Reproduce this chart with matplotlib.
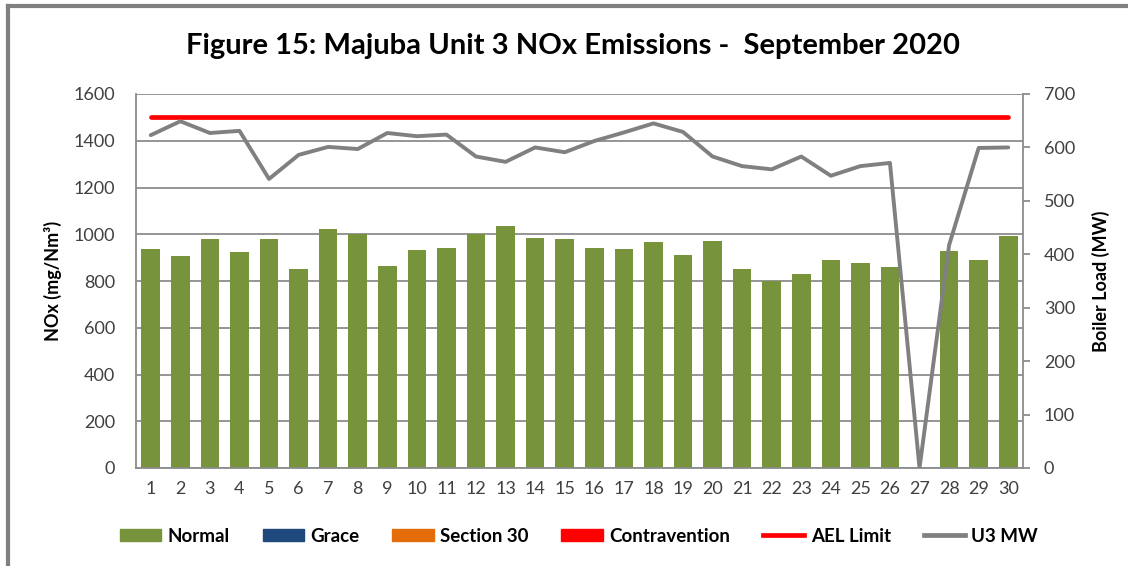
import matplotlib
matplotlib.use("Agg")
import matplotlib.pyplot as plt
import numpy as np
from matplotlib.patches import Patch
from matplotlib.lines import Line2D

plt.rcParams["font.family"] = ["Lato", "DejaVu Sans"]

days = list(range(1, 31))
normal = [936, 906, 978, 923, 978, 851, 1023, 1003, 865, 932,
          942, 999, 1036, 982, 978, 942, 936, 965, 911, 973,
          851, 800, 829, 888, 878, 859, 0, 928, 888, 992]
grace = [0] * 30
section30 = [0] * 30
contravention = [0] * 30
ael_limit = [1500] * 30
u3_mw = [623, 649, 627, 631, 541, 586, 601, 597, 627, 621,
         624, 583, 573, 600, 591, 612, 628, 645, 629, 583,
         565, 559, 583, 547, 565, 571, 0, 417, 599, 600]

GREEN = "#77933C"
BLUE = "#1F497D"
ORANGE = "#E46C0A"
RED = "#FF0000"
GREY = "#808080"
GRID = "#8C8C8C"
TICK = "#404040"

W, H = 1128, 566
fig = plt.figure(figsize=(W / 100, H / 100), dpi=100)
ax = fig.add_axes([136 / W, 1 - 468 / H, (1023 - 136) / W, (468 - 94) / H])

x = np.array(days)
w = 0.63
bottom = np.zeros(30)
for vals, col in [(normal, GREEN), (grace, BLUE), (section30, ORANGE), (contravention, RED)]:
    ax.bar(x, vals, w, bottom=bottom, color=col, linewidth=0, zorder=2)
    bottom += np.array(vals)
ax.plot(x, ael_limit, color=RED, lw=3.4, solid_capstyle="round", zorder=3)

ax.set_xlim(0.5, 30.5)
ax.set_ylim(0, 1600)
ax.set_yticks(range(0, 1601, 200))
ax.set_xticks(x)
ax.set_xticklabels([str(d) for d in days])
ax.yaxis.grid(True, color=GRID, lw=1.3, zorder=0)
ax.set_axisbelow(True)
ax.tick_params(axis="both", length=0, labelsize=13, labelcolor=TICK)
ax.tick_params(axis="x", pad=9)
ax.tick_params(axis="y", pad=15)
for s in ["top", "right"]:
    ax.spines[s].set_visible(False)
for s in ["left", "bottom"]:
    ax.spines[s].set_color(GRID)
    ax.spines[s].set_linewidth(1.3)

ax2 = ax.twinx()
ax2.plot(x, u3_mw, color=GREY, lw=2.8, solid_capstyle="round", zorder=4)
ax2.set_ylim(0, 700)
ax2.set_yticks(range(0, 701, 100))
ax2.tick_params(axis="y", length=5, width=1.3, color=GRID, labelsize=13, labelcolor=TICK, pad=10)
for s in ["top", "left", "bottom"]:
    ax2.spines[s].set_visible(False)
ax2.spines["right"].set_color(GRID)
ax2.spines["right"].set_linewidth(1.3)

fig.text(53 / W, 1 - 281 / H, "NOx (mg/Nm³)", rotation=90, ha="center", va="center",
         fontsize=13, fontweight="bold")
fig.text(1101 / W, 1 - 281 / H, "Boiler Load (MW)", rotation=90, ha="center", va="center",
         fontsize=13, fontweight="bold")

fig.text(573 / W, 1 - 46 / H, "Figure 15: Majuba Unit 3 NOx Emissions -  September 2020",
         ha="center", va="center", fontsize=21, fontweight="bold")

handles = [Patch(color=GREEN), Patch(color=BLUE), Patch(color=ORANGE), Patch(color=RED),
           Line2D([], [], color=RED, lw=3.4), Line2D([], [], color=GREY, lw=3.4)]
labels = ["Normal", "Grace", "Section 30", "Contravention", "AEL Limit", "U3 MW"]
fig.legend(handles, labels, loc="center", bbox_to_anchor=(579 / W, 1 - 536 / H),
           ncol=6, frameon=False, handlelength=2.2, handleheight=0.64, columnspacing=1.75,
           handletextpad=0.35, prop={"weight": "bold", "size": 13.5})

# chart border (left and top edges visible in the crop)
fig.add_artist(Line2D([8 / W, 8 / W], [0, 1 - 6 / H], color=GREY, lw=3, transform=fig.transFigure))
fig.add_artist(Line2D([8 / W, 1], [1 - 6 / H, 1 - 6 / H], color=GREY, lw=3, transform=fig.transFigure))

fig.savefig("out.png", dpi=100)
